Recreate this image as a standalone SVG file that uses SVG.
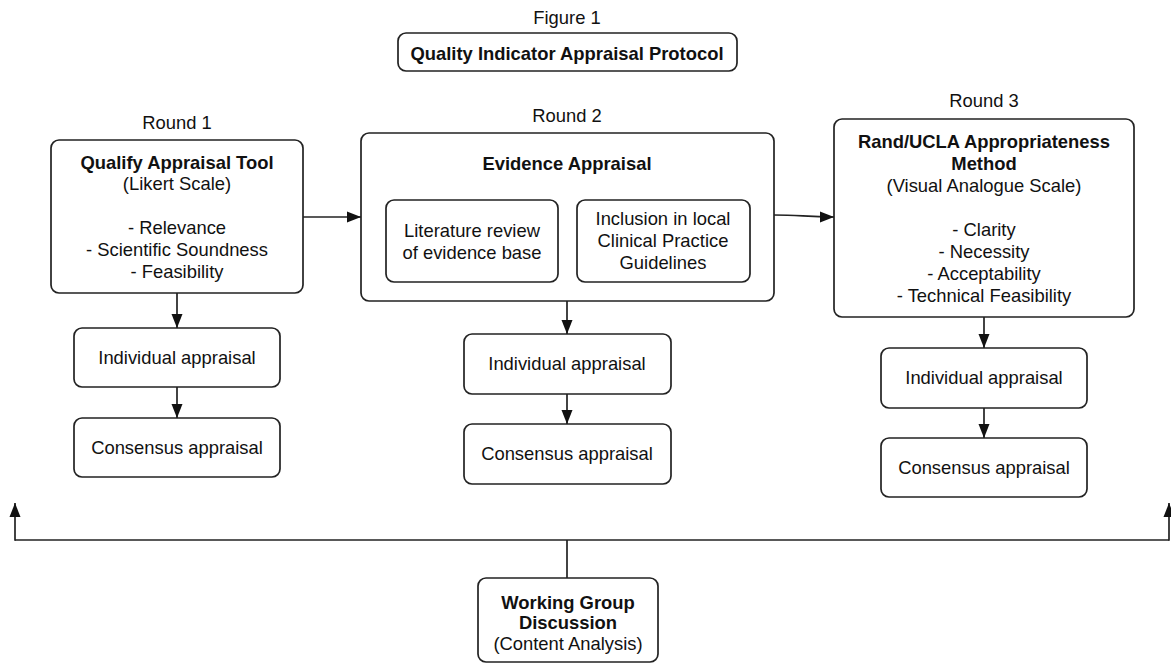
<svg xmlns="http://www.w3.org/2000/svg" width="1171" height="663" viewBox="0 0 1171 663">
  <defs>
    <style>
      .box { fill: #ffffff; stroke: #222222; stroke-width: 1.7; }
      .t { font-family: "Liberation Sans", Arial, Helvetica, sans-serif; font-size: 18.4px; fill: #111111; text-anchor: middle; dominant-baseline: central; }
      .b { font-weight: bold; }
      .conn { fill: none; stroke: #222222; stroke-width: 1.7; }
    </style>
    <marker id="arr" markerUnits="userSpaceOnUse" markerWidth="15" markerHeight="13" refX="14" refY="6.5" orient="auto">
      <path d="M0,1 L14,6.5 L0,12 z" fill="#111111"/>
    </marker>
  </defs>
  <rect width="1171" height="663" fill="#ffffff"/>

  <text class="t" x="567" y="17">Figure 1</text>
  <g id="title">
    <rect class="box" x="398" y="33" width="339" height="38" rx="8"/>
    <text class="t b" x="567" y="53">Quality Indicator Appraisal Protocol</text>
  </g>

  <text class="t" x="177" y="122">Round 1</text>
  <text class="t" x="567" y="115">Round 2</text>
  <text class="t" x="984" y="100">Round 3</text>

  <g id="r1-tool">
    <rect class="box" x="51" y="140" width="252" height="153" rx="8"/>
    <text class="t b" x="177" y="162">Qualify Appraisal Tool</text>
    <text class="t" x="177" y="183">(Likert Scale)</text>
    <text class="t" x="177" y="227">- Relevance</text>
    <text class="t" x="177" y="249">- Scientific Soundness</text>
    <text class="t" x="177" y="271">- Feasibility</text>
  </g>
  <g id="r1-individual">
    <rect class="box" x="74" y="328" width="206" height="59" rx="8"/>
    <text class="t" x="177" y="357">Individual appraisal</text>
  </g>
  <g id="r1-consensus">
    <rect class="box" x="74" y="418" width="206" height="59" rx="8"/>
    <text class="t" x="177" y="447">Consensus appraisal</text>
  </g>

  <g id="r2-evidence">
    <rect class="box" x="361" y="133" width="413" height="168" rx="8"/>
    <text class="t b" x="567" y="163">Evidence Appraisal</text>
  </g>
  <g id="r2-literature">
    <rect class="box" x="386" y="200" width="172" height="82" rx="8"/>
    <text class="t" x="472" y="230">Literature review</text>
    <text class="t" x="472" y="252">of evidence base</text>
  </g>
  <g id="r2-inclusion">
    <rect class="box" x="577" y="200" width="173" height="82" rx="8"/>
    <text class="t" x="663" y="218">Inclusion in local</text>
    <text class="t" x="663" y="240">Clinical Practice</text>
    <text class="t" x="663" y="262">Guidelines</text>
  </g>
  <g id="r2-individual">
    <rect class="box" x="464" y="334" width="207" height="60" rx="8"/>
    <text class="t" x="567" y="363">Individual appraisal</text>
  </g>
  <g id="r2-consensus">
    <rect class="box" x="464" y="424" width="207" height="60" rx="8"/>
    <text class="t" x="567" y="453">Consensus appraisal</text>
  </g>

  <g id="r3-rand">
    <rect class="box" x="834" y="119" width="300" height="198" rx="8"/>
    <text class="t b" x="984" y="141">Rand/UCLA Appropriateness</text>
    <text class="t b" x="984" y="163">Method</text>
    <text class="t" x="984" y="185">(Visual Analogue Scale)</text>
    <text class="t" x="984" y="229">- Clarity</text>
    <text class="t" x="984" y="251">- Necessity</text>
    <text class="t" x="984" y="273">- Acceptability</text>
    <text class="t" x="984" y="295">- Technical Feasibility</text>
  </g>
  <g id="r3-individual">
    <rect class="box" x="881" y="348" width="206" height="60" rx="8"/>
    <text class="t" x="984" y="377">Individual appraisal</text>
  </g>
  <g id="r3-consensus">
    <rect class="box" x="881" y="438" width="206" height="59" rx="8"/>
    <text class="t" x="984" y="467">Consensus appraisal</text>
  </g>

  <g id="working-group">
    <rect class="box" x="478" y="578" width="180" height="84" rx="8"/>
    <text class="t b" x="568" y="602">Working Group</text>
    <text class="t b" x="568" y="622">Discussion</text>
    <text class="t" x="568" y="643">(Content Analysis)</text>
  </g>

  <g id="connectors">
    <line class="conn" x1="303" y1="217" x2="361" y2="217" marker-end="url(#arr)"/>
    <path class="conn" d="M774,215 C800,215 806,217 834,217" marker-end="url(#arr)"/>
    <line class="conn" x1="177" y1="293" x2="177" y2="328" marker-end="url(#arr)"/>
    <line class="conn" x1="177" y1="387" x2="177" y2="418" marker-end="url(#arr)"/>
    <line class="conn" x1="567" y1="301" x2="567" y2="334" marker-end="url(#arr)"/>
    <line class="conn" x1="567" y1="394" x2="567" y2="424" marker-end="url(#arr)"/>
    <line class="conn" x1="984" y1="317" x2="984" y2="348" marker-end="url(#arr)"/>
    <line class="conn" x1="984" y1="408" x2="984" y2="438" marker-end="url(#arr)"/>
    <line class="conn" x1="567" y1="578" x2="567" y2="540"/>
    <line class="conn" x1="15" y1="540" x2="1169" y2="540"/>
    <line class="conn" x1="15" y1="540.8" x2="15" y2="503" marker-end="url(#arr)"/>
    <line class="conn" x1="1169" y1="540.8" x2="1169" y2="503" marker-end="url(#arr)"/>
  </g>
</svg>
